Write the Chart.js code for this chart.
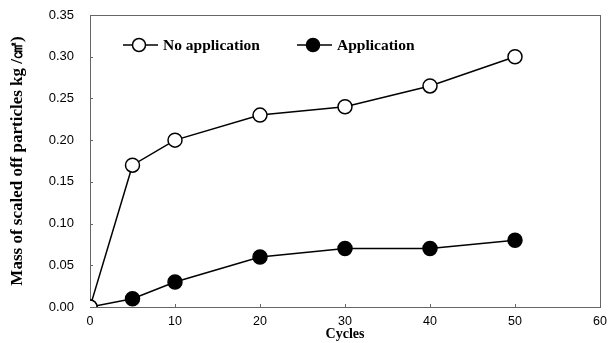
<!DOCTYPE html>
<html lang="en">
<head>
<meta charset="UTF-8">
<title>Scaled off particles vs cycles</title>
<script src="https://cdn.jsdelivr.net/npm/chart.js"></script>
<style>
  * { margin: 0; padding: 0; }
  body { background: #fff; width: 611px; height: 343px; overflow: hidden; }
  canvas { display: block; }
</style>
</head>
<body>
<canvas id="c" width="611" height="343"></canvas>
<script>
// ─── data ─────────────────────────────────────────────────────────────────────
const cycles        = [0, 5, 10, 20, 30, 40, 50];
const noApplication = [0, 0.17, 0.20, 0.23, 0.24, 0.265, 0.30];
const application   = [0, 0.01, 0.03, 0.06, 0.07, 0.07, 0.08];
const seriesNames   = ['No application', 'Application'];
const xTitle        = 'Cycles';
const yTitle        = 'Mass of scaled off particles kg /㎠)';

const SERIF = '"Liberation Serif", "Times New Roman", serif';
const SANS  = '"Liberation Sans", Arial, sans-serif';

const toPoints = ys => cycles.map((x, i) => ({ x, y: ys[i] }));

// frame, inward ticks and legend inside the plot area
const framePlugin = {
  id: 'frame',
  beforeDatasetsDraw(chart) {
    const { ctx, chartArea: a, scales } = chart;
    ctx.save();
    ctx.strokeStyle = '#666';
    ctx.lineWidth = 1;
    ctx.strokeRect(a.left + 0.5, a.top + 0.5, a.right - a.left, a.bottom - a.top);

    ctx.beginPath();
    scales.x.ticks.forEach(t => {
      const px = Math.round(scales.x.getPixelForValue(t.value)) + 0.5;
      ctx.moveTo(px, a.bottom);
      ctx.lineTo(px, a.bottom - 3);
    });
    scales.y.ticks.forEach(t => {
      const py = Math.round(scales.y.getPixelForValue(t.value)) + 0.5;
      ctx.moveTo(a.left, py);
      ctx.lineTo(a.left + 3, py);
    });
    ctx.stroke();
    ctx.restore();
  },
  afterDraw(chart) {
    const { ctx } = chart;
    ctx.save();
    const items = [
      { x: 123, fill: '#fff', label: seriesNames[0] },
      { x: 297, fill: '#000', label: seriesNames[1] },
    ];
    const y = 45;
    ctx.font = 'bold 15.5px ' + SERIF;
    ctx.textBaseline = 'middle';
    items.forEach(it => {
      ctx.strokeStyle = '#000';
      ctx.lineWidth = 1.5;
      ctx.beginPath();
      ctx.moveTo(it.x, y);
      ctx.lineTo(it.x + 35, y);
      ctx.stroke();
      ctx.beginPath();
      ctx.arc(it.x + 16, y, 6.5, 0, Math.PI * 2);
      ctx.fillStyle = it.fill;
      ctx.fill();
      ctx.stroke();
      ctx.fillStyle = '#000';
      ctx.fillText(it.label, it.x + 40, y + 1);
    });
    ctx.restore();
  }
};

new Chart(document.getElementById('c'), {
  type: 'scatter',
  data: {
    datasets: [
      {
        label: seriesNames[0],
        data: toPoints(noApplication),
        showLine: true,
        borderColor: '#000',
        borderWidth: 1.5,
        pointBackgroundColor: '#fff',
        pointBorderColor: '#000',
        pointBorderWidth: 1.5,
        pointRadius: 7,
      },
      {
        label: seriesNames[1],
        data: toPoints(application),
        showLine: true,
        borderColor: '#000',
        borderWidth: 1.5,
        pointBackgroundColor: '#000',
        pointBorderColor: '#000',
        pointBorderWidth: 1.5,
        pointRadius: 7,
      },
    ]
  },
  options: {
    responsive: false,
    animation: false,
    devicePixelRatio: 1,
    layout: { padding: { left: 0, top: 15, right: 11, bottom: 0 } },
    plugins: { legend: { display: false }, tooltip: { enabled: false } },
    scales: {
      x: {
        type: 'linear',
        min: 0, max: 60,
        afterFit(s) { s.height = 36; s.paddingLeft = 0; s.paddingRight = 0; },
        ticks: {
          stepSize: 10, color: '#000', padding: 7,
          font: { family: SANS, size: 12.5 }
        },
        grid: { display: false, drawTicks: false, tickLength: 0 },
        border: { display: false },
        title: {
          display: true, text: xTitle, color: '#000', padding: 0,
          font: { family: SERIF, size: 14, weight: 'bold' }
        }
      },
      y: {
        min: 0, max: 0.35,
        afterFit(s) { s.width = 90; s.paddingTop = 0; s.paddingBottom = 0; },
        ticks: {
          stepSize: 0.05, color: '#000', padding: 16,
          callback: v => v.toFixed(2),
          font: { family: SANS, size: 13 }
        },
        grid: { display: false, drawTicks: false, tickLength: 0 },
        border: { display: false },
        title: {
          display: true, text: yTitle, color: '#000', padding: { top: 7, bottom: 0 },
          font: { family: SERIF, size: 17, weight: 'bold' }
        }
      }
    }
  },
  plugins: [framePlugin]
});
</script>
</body>
</html>
